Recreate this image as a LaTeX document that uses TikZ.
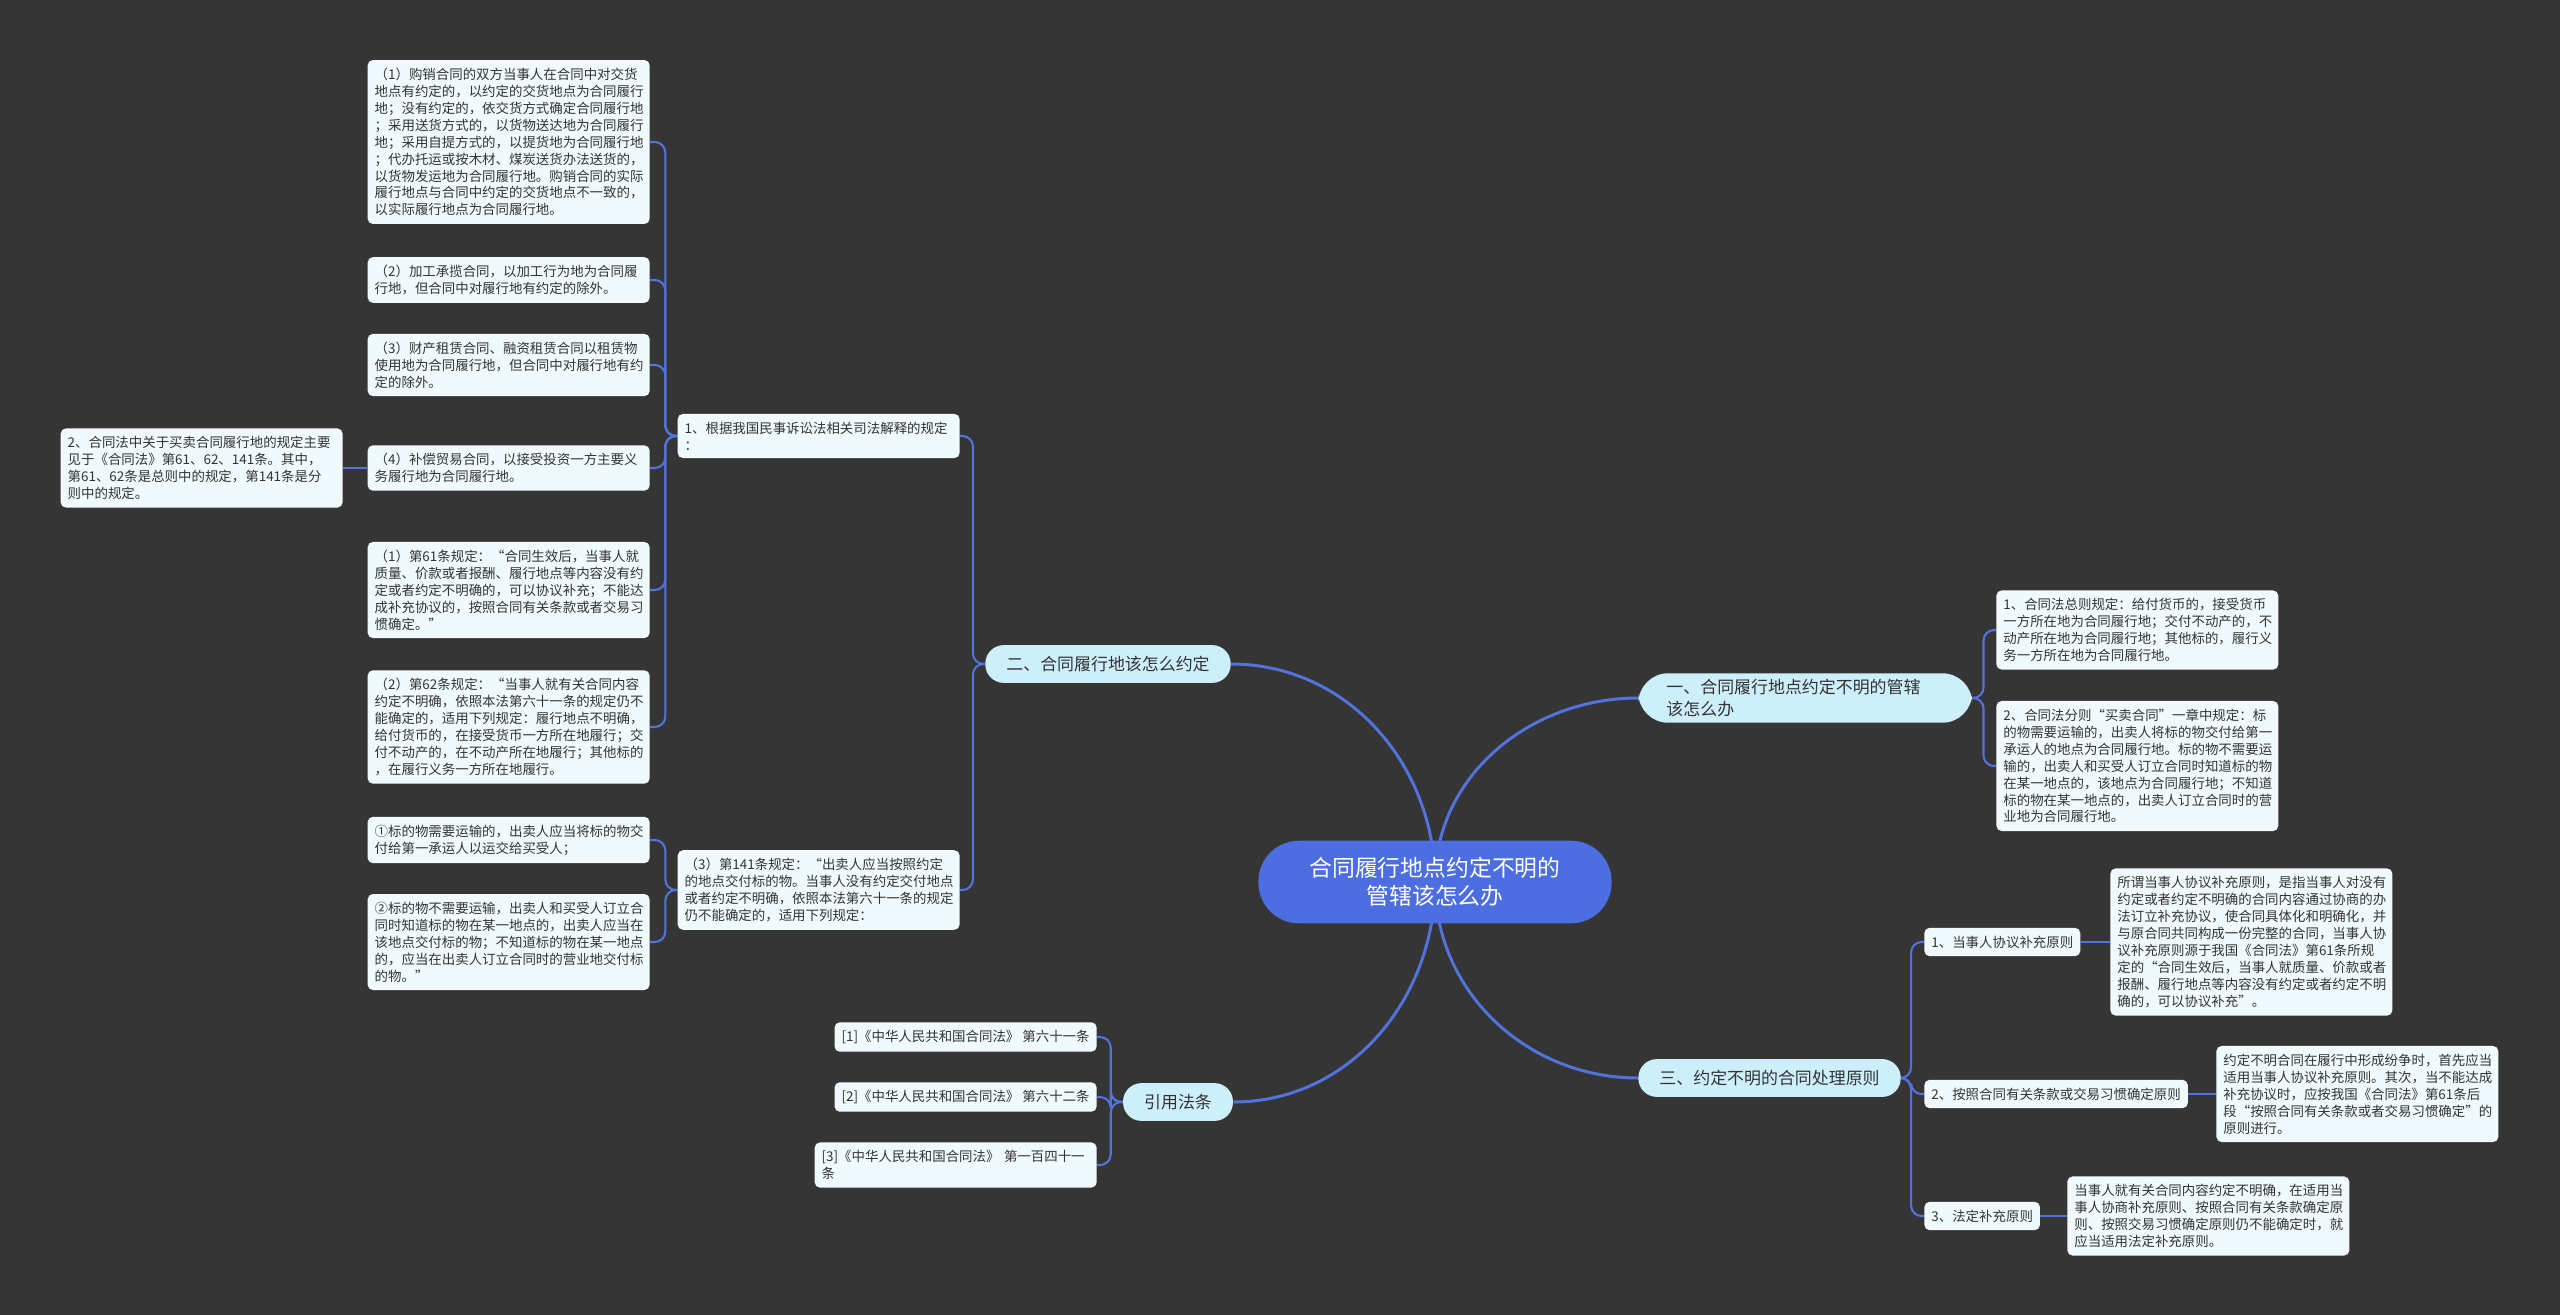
\documentclass[tikz,border=0pt]{standalone}
\usepackage{fontspec}
\setmainfont{Noto Sans CJK SC}
\usetikzlibrary{positioning,calc}
\definecolor{bgdark}{HTML}{353535}
\definecolor{linkblue}{HTML}{5272DC}
\definecolor{rootblue}{HTML}{4C6EE0}
\definecolor{mainfill}{HTML}{CDEFFC}
\definecolor{leaffill}{HTML}{F0FAFD}
\definecolor{inktext}{HTML}{333333}
\pgfdeclarelayer{bg}
\pgfdeclarelayer{links}
\pgfsetlayers{bg,links,main}

\tikzset{
  leaf/.style={fill=leaffill, rounded corners=3pt, align=left, inner xsep=4pt,
    inner ysep=4.5pt, text=inktext, font=\fontsize{7.65}{9.64}\selectfont},
  para/.style={leaf, text width=152.5pt},
  topic/.style={fill=mainfill, rounded corners=10.5pt, align=left, inner xsep=12pt,
    minimum height=21.5pt, text=inktext, font=\fontsize{9.64}{12.5}\selectfont},
  root/.style={fill=rootblue, rounded corners=23pt, align=center, text=white,
    inner xsep=29pt, minimum height=47pt, font=\fontsize{13}{15.9}\selectfont},
  trunk/.style={draw=linkblue, line width=1.7pt},
  link/.style={draw=linkblue, line width=1.2pt, rounded corners=6pt},
}

\begin{document}
\begin{tikzpicture}[x=0.02cm,y=-0.02cm]
\begin{pgfonlayer}{bg}
\fill[bgdark] (0,0) rectangle (2560,1315);
\end{pgfonlayer}
\useasboundingbox (0,0) rectangle (2560,1315);

% root and main topics
\node[root] (ctr) at (1435,882) {合同履行地点约定不明的\\管辖该怎么办};
\node[topic, anchor=west, text width=158pt, inner xsep=16pt, rounded corners=17pt] (t1) at (1638,698)
  {一、合同履行地点约定不明的管辖\\该怎么办};
\node[topic] (t2) at (1108,664) {二、合同履行地该怎么约定};
\node[topic, anchor=west] (t3) at (1638,1078) {三、约定不明的合同处理原则};
\node[topic] (t4) at (1178,1102) {引用法条};

% branch two
\node[para, anchor=east] (r1) at (960,436) {1、根据我国民事诉讼法相关司法解释的规定\\：};
\node[para, anchor=east] (r2) at (960,890) {（3）第141条规定：“出卖人应当按照约定\\的地点交付标的物。当事人没有约定交付地点\\或者约定不明确，依照本法第六十一条的规定\\仍不能确定的，适用下列规定：};

\node[para, anchor=east] (a1) at (650,142) {（1）购销合同的双方当事人在合同中对交货\\地点有约定的，以约定的交货地点为合同履行\\地；没有约定的，依交货方式确定合同履行地\\；采用送货方式的，以货物送达地为合同履行\\地；采用自提方式的，以提货地为合同履行地\\；代办托运或按木材、煤炭送货办法送货的，\\以货物发运地为合同履行地。购销合同的实际\\履行地点与合同中约定的交货地点不一致的，\\以实际履行地点为合同履行地。};
\node[para, anchor=east] (a2) at (650,280) {（2）加工承揽合同，以加工行为地为合同履\\行地，但合同中对履行地有约定的除外。};
\node[para, anchor=east] (a3) at (650,365) {（3）财产租赁合同、融资租赁合同以租赁物\\使用地为合同履行地，但合同中对履行地有约\\定的除外。};
\node[para, anchor=east] (a4) at (650,468) {（4）补偿贸易合同，以接受投资一方主要义\\务履行地为合同履行地。};
\node[para, anchor=east] (a5) at (343,468) {2、合同法中关于买卖合同履行地的规定主要\\见于《合同法》第61、62、141条。其中，\\第61、62条是总则中的规定，第141条是分\\则中的规定。};
\node[para, anchor=east] (a6) at (650,590) {（1）第61条规定：“合同生效后，当事人就\\质量、价款或者报酬、履行地点等内容没有约\\定或者约定不明确的，可以协议补充；不能达\\成补充协议的，按照合同有关条款或者交易习\\惯确定。”};
\node[para, anchor=east] (a7) at (650,727) {（2）第62条规定：“当事人就有关合同内容\\约定不明确，依照本法第六十一条的规定仍不\\能确定的，适用下列规定：履行地点不明确，\\给付货币的，在接受货币一方所在地履行；交\\付不动产的，在不动产所在地履行；其他标的\\，在履行义务一方所在地履行。};

\node[para, anchor=east] (b1) at (650,840) {①标的物需要运输的，出卖人应当将标的物交\\付给第一承运人以运交给买受人；};
\node[para, anchor=east] (b2) at (650,942) {②标的物不需要运输，出卖人和买受人订立合\\同时知道标的物在某一地点的，出卖人应当在\\该地点交付标的物；不知道标的物在某一地点\\的，应当在出卖人订立合同时的营业地交付标\\的物。”};

% citations
\node[leaf, anchor=east] (c1) at (1097,1037) {[1]《中华人民共和国合同法》 第六十一条};
\node[leaf, anchor=east] (c2) at (1097,1097) {[2]《中华人民共和国合同法》 第六十二条};
\node[para, anchor=east] (c3) at (1097,1165) {[3]《中华人民共和国合同法》 第一百四十一\\条};

% branch one
\node[para, anchor=west] (d1) at (1996,630) {1、合同法总则规定：给付货币的，接受货币\\一方所在地为合同履行地；交付不动产的，不\\动产所在地为合同履行地；其他标的，履行义\\务一方所在地为合同履行地。};
\node[para, anchor=west] (d2) at (1996,766) {2、合同法分则“买卖合同”一章中规定：标\\的物需要运输的，出卖人将标的物交付给第一\\承运人的地点为合同履行地。标的物不需要运\\输的，出卖人和买受人订立合同时知道标的物\\在某一地点的，该地点为合同履行地；不知道\\标的物在某一地点的，出卖人订立合同时的营\\业地为合同履行地。};

% branch three
\node[leaf, anchor=west] (s1) at (1924,942) {1、当事人协议补充原则};
\node[leaf, anchor=west] (s2) at (1924,1094) {2、按照合同有关条款或交易习惯确定原则};
\node[leaf, anchor=west] (s3) at (1924,1216) {3、法定补充原则};
\node[para, anchor=west] (e1) at (2110,942) {所谓当事人协议补充原则，是指当事人对没有\\约定或者约定不明确的合同内容通过协商的办\\法订立补充协议，使合同具体化和明确化，并\\与原合同共同构成一份完整的合同，当事人协\\议补充原则源于我国《合同法》第61条所规\\定的“合同生效后，当事人就质量、价款或者\\报酬、履行地点等内容没有约定或者约定不明\\确的，可以协议补充”。};
\node[para, anchor=west] (e2) at (2216,1094) {约定不明合同在履行中形成纷争时，首先应当\\适用当事人协议补充原则。其次，当不能达成\\补充协议时，应按我国《合同法》第61条后\\段“按照合同有关条款或者交易习惯确定”的\\原则进行。};
\node[para, anchor=west] (e3) at (2067,1216) {当事人就有关合同内容约定不明确，在适用当\\事人协商补充原则、按照合同有关条款确定原\\则、按照交易习惯确定原则仍不能确定时，就\\应当适用法定补充原则。};

% connectors
\begin{pgfonlayer}{links}
\draw[trunk] (ctr.center) to[out=90,in=180] (t1.west);
\draw[trunk] (ctr.center) to[out=90,in=0] (t2.east);
\draw[trunk] (ctr.center) to[out=-90,in=180] (t3.west);
\draw[trunk] (ctr.center) to[out=-90,in=0] (t4.east);
\foreach \c in {r1,r2} \draw[link] (t2.west) -- ++(-12,0) |- (\c.east);
\foreach \c in {a1,a2,a3,a4,a6,a7} \draw[link] (r1.west) -- ++(-12,0) |- (\c.east);
\foreach \c in {b1,b2} \draw[link] (r2.west) -- ++(-12,0) |- (\c.east);
\draw[link] (a4.west) -- (a5.east);
\foreach \c in {c1,c2,c3} \draw[link] (t4.west) -- ++(-12,0) |- (\c.east);
\foreach \c in {d1,d2} \draw[link] (t1.east) -- ++(11,0) |- (\c.west);
\foreach \c in {s1,s2,s3} \draw[link] (t3.east) -- ++(10,0) |- (\c.west);
\draw[link] (s1.east) -- (e1.west);
\draw[link] (s2.east) -- (e2.west);
\draw[link] (s3.east) -- (e3.west);
\end{pgfonlayer}
\end{tikzpicture}
\end{document}
